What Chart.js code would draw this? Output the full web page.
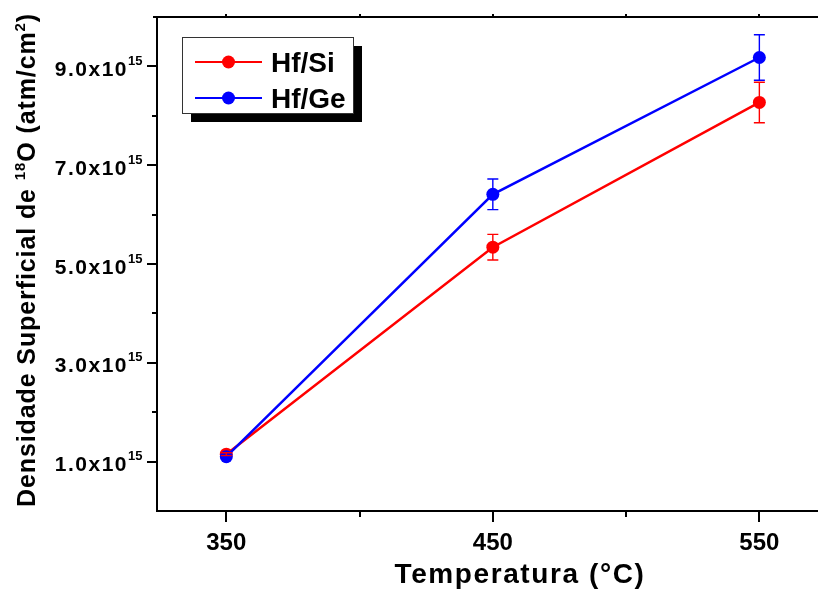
<!DOCTYPE html>
<html>
<head>
<meta charset="utf-8">
<script src="https://cdn.jsdelivr.net/npm/chart.js@4.4.1/dist/chart.umd.min.js"></script>
<style>
  html, body { margin: 0; padding: 0; background: #fff; overflow: hidden; }
  #wrap { width: 818px; height: 596px; }
</style>
</head>
<body>
<div id="wrap"><canvas id="density-chart" width="818" height="596"></canvas></div>
<script>
// Surface density of 18O versus annealing temperature

const temperatures = [350, 450, 550];
const hfSiValues = [1.15e15, 5.34e15, 8.27e15];
const hfSiErrors = [0.03e15, 0.26e15, 0.41e15];
const hfGeValues = [1.10e15, 6.41e15, 9.18e15];
const hfGeErrors = [0.02e15, 0.31e15, 0.46e15];

const xMajorTicks = [350, 450, 550];
const xMinorTicks = [400, 500];
const yMajorTicks = [1e15, 3e15, 5e15, 7e15, 9e15];
const yMinorTicks = [2e15, 4e15, 6e15, 8e15];
const yTickLabels = ['1.0', '3.0', '5.0', '7.0', '9.0'];

const FONT = '"Liberation Sans", Arial, sans-serif';

function toPoints(values) {
  return temperatures.map((t, i) => ({ x: t, y: values[i] }));
}

// Draw a row of text pieces, some of them superscript
function drawRich(ctx, parts, x, y, size, supSize, supRise, align) {
  ctx.textAlign = 'left';
  ctx.textBaseline = 'alphabetic';
  let total = 0;
  parts.forEach(p => {
    ctx.font = `bold ${p.sup ? supSize : size}px ${FONT}`;
    total += ctx.measureText(p.text).width;
  });
  let cx = x;
  if (align === 'center') cx = x - total / 2;
  if (align === 'right') cx = x - total;
  parts.forEach(p => {
    ctx.font = `bold ${p.sup ? supSize : size}px ${FONT}`;
    ctx.fillText(p.text, cx, p.sup ? y - supRise : y);
    cx += ctx.measureText(p.text).width;
  });
}

const axesPlugin = {
  id: 'originAxes',
  beforeDatasetsDraw(chart) {
    const { ctx, chartArea: area, scales: { x, y } } = chart;
    ctx.save();
    ctx.strokeStyle = '#000';
    ctx.lineWidth = 2;

    // frame: left, bottom, top
    ctx.beginPath();
    ctx.moveTo(area.left, area.top);
    ctx.lineTo(area.left, area.bottom + 1);
    ctx.moveTo(area.left - 1, area.bottom);
    ctx.lineTo(area.right, area.bottom);
    ctx.moveTo(area.left - 4, area.top);
    ctx.lineTo(area.right, area.top);
    ctx.stroke();

    // ticks
    ctx.beginPath();
    xMajorTicks.forEach(v => {
      const px = Math.round(x.getPixelForValue(v));
      ctx.moveTo(px, area.bottom);
      ctx.lineTo(px, area.bottom + 11);
      ctx.moveTo(px, area.top);
      ctx.lineTo(px, area.top - 3);
    });
    xMinorTicks.forEach(v => {
      const px = Math.round(x.getPixelForValue(v));
      ctx.moveTo(px, area.bottom);
      ctx.lineTo(px, area.bottom + 6);
      ctx.moveTo(px, area.top);
      ctx.lineTo(px, area.top - 3);
    });
    yMajorTicks.forEach(v => {
      const py = Math.round(y.getPixelForValue(v));
      ctx.moveTo(area.left, py);
      ctx.lineTo(area.left - 10, py);
    });
    yMinorTicks.forEach(v => {
      const py = Math.round(y.getPixelForValue(v));
      ctx.moveTo(area.left, py);
      ctx.lineTo(area.left - 5, py);
    });
    ctx.stroke();
    ctx.restore();
  },

  afterDatasetsDraw(chart) {
    const { ctx, scales: { x, y } } = chart;
    // error bars, blue first so the red ones sit on top
    const series = [
      { values: hfGeValues, errors: hfGeErrors, color: '#0000ff' },
      { values: hfSiValues, errors: hfSiErrors, color: '#ff0000' }
    ];
    ctx.save();
    ctx.lineWidth = 1.4;
    series.forEach(s => {
      ctx.strokeStyle = s.color;
      ctx.beginPath();
      temperatures.forEach((t, i) => {
        const px = x.getPixelForValue(t);
        const top = y.getPixelForValue(s.values[i] + s.errors[i]);
        const bottom = y.getPixelForValue(s.values[i] - s.errors[i]);
        ctx.moveTo(px, top);
        ctx.lineTo(px, bottom);
        ctx.moveTo(px - 5.5, top);
        ctx.lineTo(px + 5.5, top);
        ctx.moveTo(px - 5.5, bottom);
        ctx.lineTo(px + 5.5, bottom);
      });
      ctx.stroke();
    });
    ctx.restore();
  },

  afterDraw(chart) {
    const { ctx, scales: { x, y } } = chart;
    ctx.save();
    ctx.fillStyle = '#000';

    // y tick labels with the x10^15 exponent
    yMajorTicks.forEach((v, i) => {
      const py = y.getPixelForValue(v);
      ctx.letterSpacing = '1.5px';
      drawRich(ctx, [{ text: yTickLabels[i] + 'x10' }], 128, py + 9.5, 21, 13, 0, 'right');
      ctx.letterSpacing = '0px';
      drawRich(ctx, [{ text: '15' }], 128, py - 1.5, 13, 13, 0, 'left');
    });

    // x tick labels
    ctx.font = `bold 24px ${FONT}`;
    ctx.textAlign = 'center';
    ctx.textBaseline = 'alphabetic';
    xMajorTicks.forEach(v => {
      ctx.fillText(String(v), x.getPixelForValue(v), 550);
    });

    // axis titles
    ctx.letterSpacing = '1.6px';
    drawRich(ctx, [{ text: 'Temperatura (°C)' }], 520, 583, 28, 28, 0, 'center');

    ctx.save();
    ctx.translate(35, 260);
    ctx.rotate(-Math.PI / 2);
    ctx.letterSpacing = '0.9px';
    drawRich(ctx, [
      { text: 'Densidade Superficial de ' },
      { text: '18', sup: true },
      { text: 'O (atm/cm' },
      { text: '2', sup: true },
      { text: ')' }
    ], 0, 0, 25, 15, 10, 'center');
    ctx.restore();
    ctx.letterSpacing = '0px';

    // legend box with drop shadow
    const box = { x: 182, y: 37, w: 171, h: 76 };
    ctx.fillStyle = '#000';
    ctx.fillRect(box.x + 9, box.y + 9, box.w, box.h);
    ctx.fillStyle = '#fff';
    ctx.fillRect(box.x, box.y, box.w, box.h);
    ctx.strokeStyle = '#333';
    ctx.lineWidth = 1;
    ctx.strokeRect(box.x + 0.5, box.y + 0.5, box.w, box.h);

    const rows = [
      { label: chart.data.datasets[0].label, color: chart.data.datasets[0].borderColor, cy: 62 },
      { label: chart.data.datasets[1].label, color: chart.data.datasets[1].borderColor, cy: 98 }
    ];
    rows.forEach(r => {
      ctx.strokeStyle = r.color;
      ctx.lineWidth = 2;
      ctx.beginPath();
      ctx.moveTo(195, r.cy);
      ctx.lineTo(262, r.cy);
      ctx.stroke();
      ctx.fillStyle = r.color;
      ctx.beginPath();
      ctx.arc(228.5, r.cy, 6.5, 0, Math.PI * 2);
      ctx.fill();
      ctx.fillStyle = '#000';
      ctx.font = `bold 28px ${FONT}`;
      ctx.textAlign = 'left';
      ctx.fillText(r.label, 271, r.cy + 10);
    });
    ctx.restore();
  }
};

const ctx = document.getElementById('density-chart').getContext('2d');
new Chart(ctx, {
  type: 'line',
  data: {
    datasets: [
      {
        label: 'Hf/Si',
        data: toPoints(hfSiValues),
        borderColor: '#ff0000',
        backgroundColor: '#ff0000',
        borderWidth: 2.5,
        pointRadius: 6.5,
        pointBorderWidth: 0,
        pointBackgroundColor: '#ff0000',
        tension: 0,
        order: 1
      },
      {
        label: 'Hf/Ge',
        data: toPoints(hfGeValues),
        borderColor: '#0000ff',
        backgroundColor: '#0000ff',
        borderWidth: 2.5,
        pointRadius: 6.5,
        pointBorderWidth: 0,
        pointBackgroundColor: '#0000ff',
        tension: 0,
        order: 0
      }
    ]
  },
  options: {
    responsive: false,
    animation: false,
    devicePixelRatio: 1,
    layout: { autoPadding: false, padding: { left: 157, top: 17, right: 0, bottom: 85 } },
    scales: {
      x: { type: 'linear', min: 324, max: 572, display: false },
      y: { type: 'linear', min: 0, max: 10e15, display: false }
    },
    plugins: {
      legend: { display: false },
      tooltip: { enabled: false }
    }
  },
  plugins: [axesPlugin]
});
</script>
</body>
</html>
